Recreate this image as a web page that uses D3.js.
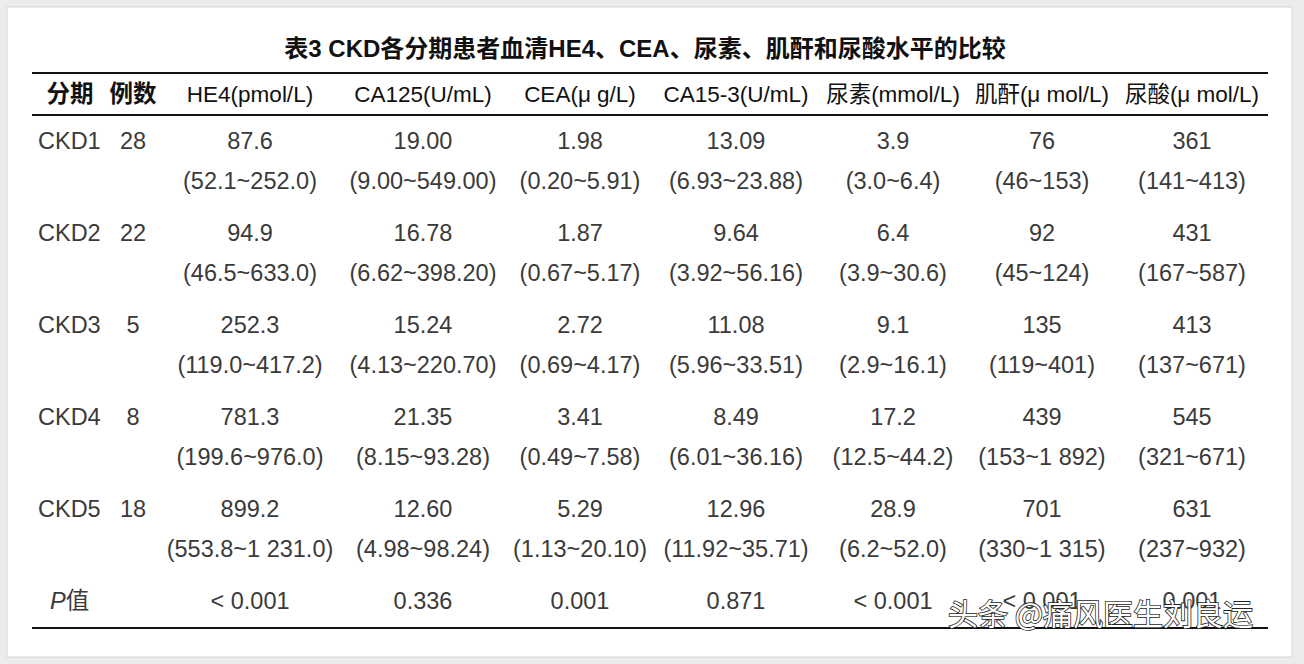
<!DOCTYPE html>
<html><head><meta charset="utf-8">
<script src="https://cdn.jsdelivr.net/npm/d3@7"></script>
<style>body{margin:0;background:#ececec;}svg{display:block}</style></head>
<body><svg id="c" width="1304" height="664"></svg>
<script>
const title = "表3 CKD各分期患者血清HE4、CEA、尿素、肌酐和尿酸水平的比较";
const headers = ["分期","例数","HE4(pmol/L)","CA125(U/mL)","CEA(μ g/L)","CA15-3(U/mL)","尿素(mmol/L)","肌酐(μ mol/L)","尿酸(μ mol/L)"];
const stages = ["CKD1","CKD2","CKD3","CKD4","CKD5"];
const counts = ["28","22","5","8","18"];
const medians = [
 ["87.6","19.00","1.98","13.09","3.9","76","361"],
 ["94.9","16.78","1.87","9.64","6.4","92","431"],
 ["252.3","15.24","2.72","11.08","9.1","135","413"],
 ["781.3","21.35","3.41","8.49","17.2","439","545"],
 ["899.2","12.60","5.29","12.96","28.9","701","631"]];
const ranges = [
 ["(52.1~252.0)","(9.00~549.00)","(0.20~5.91)","(6.93~23.88)","(3.0~6.4)","(46~153)","(141~413)"],
 ["(46.5~633.0)","(6.62~398.20)","(0.67~5.17)","(3.92~56.16)","(3.9~30.6)","(45~124)","(167~587)"],
 ["(119.0~417.2)","(4.13~220.70)","(0.69~4.17)","(5.96~33.51)","(2.9~16.1)","(119~401)","(137~671)"],
 ["(199.6~976.0)","(8.15~93.28)","(0.49~7.58)","(6.01~36.16)","(12.5~44.2)","(153~1 892)","(321~671)"],
 ["(553.8~1 231.0)","(4.98~98.24)","(1.13~20.10)","(11.92~35.71)","(6.2~52.0)","(330~1 315)","(237~932)"]];
const pvals = ["< 0.001","0.336","0.001","0.871","< 0.001","< 0.001","0.001"];

const svg = d3.select("#c");
const F = "'Liberation Sans', Arial, 'Noto Sans CJK SC', sans-serif";
svg.append("rect").attr("x",7).attr("y",7).attr("width",1285).attr("height",650).attr("fill","#fff").attr("stroke","#d6d6d6");
const x = d3.scaleOrdinal().domain(d3.range(9)).range([70,133,250,423,580,736,893,1042,1192]);
const y = d3.scaleLinear().domain([0,1]).range([141,233]);
const T = (xx,yy,t,opt={})=>svg.append("text").attr("x",xx).attr("y",yy).attr("text-anchor",opt.a||"middle")
  .attr("dominant-baseline","central").attr("font-family",F).attr("font-size",opt.s||23.5)
  .attr("fill",opt.c||"#3a3a3a").attr("font-weight",opt.w||"normal").text(t);
T(645,48,title,{s:24,c:"#111",w:"600"});
const line=(yy,w)=>svg.append("line").attr("x1",32).attr("x2",1268).attr("y1",yy).attr("y2",yy).attr("stroke","#111").attr("stroke-width",w);
line(73,2.2);line(115,2);line(628,1.8);
headers.forEach((h,i)=>T(x(i),94,h,{c:"#111",s:i<2?23.5:22.5,w:i<2?"600":"normal"}));
stages.forEach((s,r)=>{
  const yy=y(r);
  T(38,yy,s,{a:"start"});
  T(x(1),yy,counts[r]);
  medians[r].forEach((v,j)=>T(x(j+2),yy,v));
  ranges[r].forEach((v,j)=>T(x(j+2),yy+40,v));
});
const py=y(5);
svg.append("text").attr("x",50).attr("y",py).attr("dominant-baseline","central").attr("font-family",F).attr("font-size",23.5).attr("fill","#3a3a3a")
 .call(t=>{t.append("tspan").attr("font-style","italic").text("P");t.append("tspan").text("值");});
pvals.forEach((v,j)=>T(x(j+2),py,v));
svg.append("text").attr("x",948).attr("y",612).attr("dominant-baseline","central").attr("font-family","'Noto Sans CJK SC',sans-serif")
 .attr("font-size",30).attr("fill","#fff").attr("stroke","#222").attr("stroke-width",1.6).attr("paint-order","stroke").text("头条 @痛风医生刘良运");
</script></body></html>
